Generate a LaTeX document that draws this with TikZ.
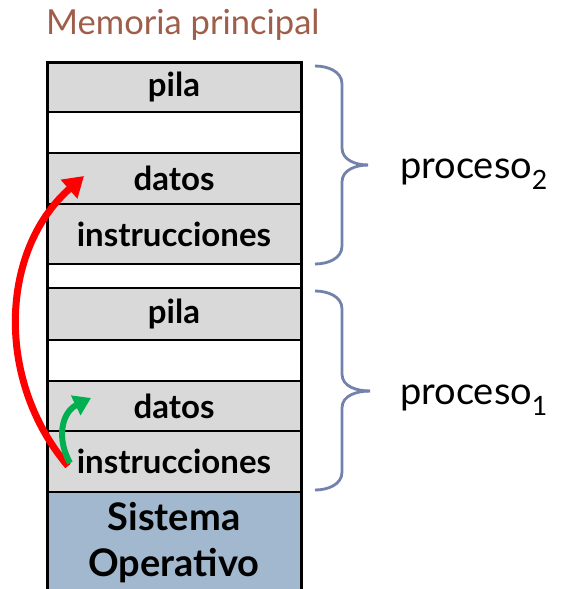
\documentclass[tikz,border=0pt]{standalone}
\usepackage{fontspec}
\setmainfont{Lato}
\usetikzlibrary{arrows.meta}
\definecolor{titlec}{HTML}{9E5E4A}
\definecolor{boxgray}{HTML}{D9D9D9}
\definecolor{sogray}{HTML}{A2B8CE}
\definecolor{bracec}{HTML}{7282AC}
\definecolor{redc}{HTML}{FF0000}
\definecolor{greenc}{HTML}{00B050}
\tikzset{
  seg/.style={draw=black, line width=1.8pt, minimum width=254pt, inner sep=0pt, outer sep=0pt,
              font=\fontsize{33}{33}\selectfont\bfseries},
  graybox/.style={seg, fill=boxgray},
  whitebox/.style={seg, fill=white},
  sobox/.style={seg, fill=sogray, align=center, font=\fontsize{38}{46}\selectfont\bfseries},
  brace/.style={draw=bracec, line width=2.8pt},
  proc/.style={font=\fontsize{38}{38}\selectfont, anchor=west, inner sep=0pt},
  bigarrow/.style={line width=#1, -{Triangle[length=20pt,width=24pt]}},
}
\begin{document}
\begin{tikzpicture}[x=1pt,y=-1pt]
\useasboundingbox (0,0) rectangle (565,589);
% title
\node[text=titlec, font=\fontsize{34.5}{34.5}\selectfont, anchor=west, inner sep=0pt] (title) at (46,25) {Memoria principal};
% memory segments
\node[graybox, minimum height=50pt] (pila2) at (174,87) {pila};
\node[whitebox, minimum height=41pt] (gap2) at (174,132.5) {};
\node[graybox, minimum height=51pt] (datos2) at (174,178.5) {datos};
\node[graybox, minimum height=60pt] (instr2) at (174,234) {instrucciones};
\node[whitebox, minimum height=24pt] (gap) at (174,276) {};
\node[graybox, minimum height=52pt] (pila1) at (174,314) {pila};
\node[whitebox, minimum height=41pt] (gap1) at (174,360.5) {};
\node[graybox, minimum height=50pt] (datos1) at (174,406) {datos};
\node[graybox, minimum height=61pt] (instr1) at (174,461.5) {instrucciones};
\node[sobox, minimum height=102pt] (so) at (174,543) {Sistema\\Operativo};
% outer thick border
\draw[line width=3pt] (pila2.south west) |- (pila2.north east) -- (so.south east);
\draw[line width=3pt] (pila2.north west) -- (so.south west);
% braces
\draw[brace] (315,66) to[out=0,in=90] (342,84) -- (342,148) to[out=-90,in=180] (368,165);
\draw[brace] (368,165) to[out=180,in=90] (342,182) -- (342,246) to[out=-90,in=0] (315,264);
\draw[brace] (315,291) to[out=0,in=90] (342,309) -- (342,374) to[out=-90,in=180] (370,391);
\draw[brace] (370,391) to[out=180,in=90] (342,408) -- (342,472) to[out=-90,in=0] (315,490);
\node[proc] (p2) at (400,174) {proceso\textsubscript{2}};
\node[proc] (p1) at (400,400) {proceso\textsubscript{1}};
% arrows
\coordinate (rs) at (68,466);
\coordinate (re) at (84,176);
\coordinate (gs) at (70,463);
\coordinate (ge) at (91,398);
\draw[redc, bigarrow=7pt] (rs) .. controls (-5,380) and (0,250) .. (re);
\draw[greenc, line width=6pt, -{Triangle[length=17pt,width=21pt]}] (gs) .. controls (56,438) and (62,412) .. (ge);
\end{tikzpicture}
\end{document}
